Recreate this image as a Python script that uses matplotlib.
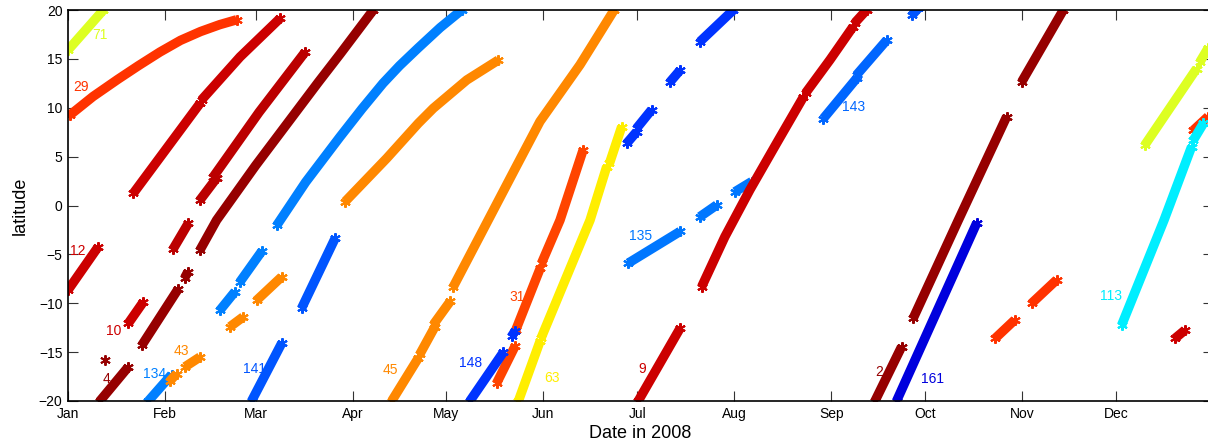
import matplotlib
matplotlib.use('Agg')
import matplotlib.pyplot as plt

plt.rcParams['font.family'] = ['Liberation Sans', 'DejaVu Sans']

# ---------------- data ----------------
month_days = [0, 31, 60, 91, 121, 152, 182, 213, 244, 274, 305, 335]
month_labels = ['Jan', 'Feb', 'Mar', 'Apr', 'May', 'Jun',
                'Jul', 'Aug', 'Sep', 'Oct', 'Nov', 'Dec']
lat_ticks = [-20, -15, -10, -5, 0, 5, 10, 15, 20]

# each track: list of segments, each segment: list of (day of 2008, latitude)
track_71 = [[(0.0, 15.9), (11.3, 20.0)]]
track_29 = [[(0.6, 9.25), (8.0, 11.15), (15.9, 12.9), (22.5, 14.3), (29.4, 15.7),
             (36.0, 16.9), (42.4, 17.8), (48.5, 18.5), (53.9, 19.0)]]
track_red_a = [[(20.9, 1.25), (42.2, 10.45)],
               [(42.7, 10.8), (55.0, 15.2), (67.8, 19.15)]]
track_red_b = [[(33.7, -4.4), (38.5, -1.8)],
               [(42.2, 0.56), (47.5, 2.8)],
               [(46.5, 2.95), (61.1, 9.55), (75.8, 15.7)]]
track_dark_c = [[(23.6, -14.3), (35.3, -8.5)],
                [(37.3, -7.4), (38.3, -6.8)],
                [(42.2, -4.55), (47.5, -1.5), (60.0, 4.1), (72.0, 9.2),
                 (80.0, 12.6), (87.0, 15.5), (97.6, 20.0)]]
track_4 = [[(10.2, -20.0), (19.3, -16.5)]]
point_4 = [(11.8, -15.8)]
track_12 = [[(0.0, -8.65), (9.7, -4.2)]]
track_10 = [[(19.3, -12.05), (24.1, -9.85)]]
track_134 = [[(25.7, -20.0), (33.1, -17.3)]]
track_43 = [[(32.6, -17.95), (34.7, -17.2)],
            [(37.4, -16.5), (42.2, -15.5)],
            [(51.8, -12.4), (56.0, -11.4)],
            [(60.3, -9.7), (68.3, -7.3)],
            [(88.6, 0.4), (101.9, 4.83), (112.0, 8.41), (116.8, 9.95),
             (127.5, 12.84), (137.6, 14.88)]]
track_light_blue = [[(48.6, -10.7), (53.4, -8.8)],
                    [(55.0, -7.8), (61.9, -4.7)],
                    [(66.8, -2.0), (76.0, 2.4), (86.9, 7.0), (94.0, 9.9),
                     (100.7, 12.5), (106.0, 14.3), (111.9, 16.1), (119.0, 18.2),
                     (125.9, 20.0)]]
track_141 = [[(58.7, -20.0), (68.3, -14.1)],
             [(74.7, -10.5), (85.4, -3.35)]]
track_45 = [[(103.5, -20.0), (112.0, -15.6)],
            [(112.5, -15.2), (117.3, -12.4)],
            [(117.0, -12.1), (122.2, -9.8)],
            [(123.2, -8.3), (134.9, -1.15), (143.0, 3.8), (150.9, 8.6),
             (163.7, 14.4), (174.6, 20.0)]]
track_148 = [[(128.5, -20.0), (139.2, -15.0)],
             [(141.8, -13.4), (143.0, -12.8)]]
track_31 = [[(137.0, -18.2), (142.9, -14.4)],
            [(143.2, -12.7), (151.0, -6.4)],
            [(151.4, -5.9), (157.3, -1.5), (164.7, 5.7)]]
track_63 = [[(144.0, -20.0), (150.9, -13.9)],
            [(151.2, -13.6), (166.9, -1.5), (172.2, 3.95)],
            [(173.1, 4.3), (177.0, 8.05)]]
track_blue_jul = [[(178.6, 6.35), (181.8, 7.55)],
                  [(181.8, 7.9), (186.6, 9.8)],
                  [(192.5, 12.65), (195.7, 13.85)],
                  [(202.0, 16.75), (212.7, 20.0)]]
track_135 = [[(179.1, -5.9), (195.7, -2.65)],
             [(202.0, -1.15), (207.4, 0.05)],
             [(213.2, 1.4), (218.6, 2.45)]]
track_9 = [[(182.3, -20.0), (195.7, -12.55)],
           [(202.6, -8.3), (210.0, -3.2), (218.0, 1.6), (226.6, 6.4), (235.1, 11.1)],
           [(235.8, 11.5), (243.6, 14.9), (251.0, 18.3)],
           [(251.6, 18.7), (255.3, 20.0)]]
track_143 = [[(241.5, 8.9), (252.1, 13.0)],
             [(252.1, 13.35), (261.7, 16.9)]]
track_blue_oct = [[(269.9, 19.5), (271.9, 20.2)]]
track_2 = [[(258.0, -20.0), (266.5, -14.45)]]
track_dark_oct = [[(270.2, -11.55), (284.5, -1.6), (300.1, 9.1)],
                  [(304.9, 12.65), (318.2, 20.0)]]
track_161 = [[(264.9, -20.0), (290.5, -1.8)]]
track_nov = [[(296.4, -13.6), (302.7, -11.7)],
             [(308.1, -10.0), (316.1, -7.6)]]
track_dec_orange = [[(359.8, 7.7), (364.5, 9.1)]]
track_113 = [[(336.9, -12.2), (350.4, -1.5), (359.2, 6.0)],
             [(359.8, 6.7), (363.0, 8.4)]]
track_dec_red = [[(353.9, -13.6), (357.1, -12.75)]]
track_dec_green = [[(344.3, 6.2), (360.8, 14.0)],
                   [(361.9, 14.7), (364.5, 16.1)]]

label_text = ['71', '29', '12', '10', '4', '134', '43', '141', '45', '148',
              '31', '63', '135', '9', '143', '2', '161', '113']
label_day = [7.7, 1.7, 0.6, 12.05, 11.1, 24.1, 33.7, 55.8, 100.6, 125.1,
             141.0, 152.2, 179.4, 182.5, 247.3, 258.0, 272.6, 329.9]
label_lat = [17.45, 12.15, -4.7, -12.8, -17.7, -17.2, -14.85, -16.7, -16.8, -16.1,
             -9.4, -17.6, -3.1, -16.75, 10.1, -17.05, -17.75, -9.3]

# ---------------- styles ----------------
C_YG = '#DDFF22'
C_RO = '#FF3300'
C_RED = '#CC0000'
C_RED2 = '#BB0000'
C_DARK = '#960000'
C_LB = '#0080FF'
C_OR = '#FF8800'
C_B1 = '#0055FF'
C_B2 = '#0033FF'
C_31 = '#FF4400'
C_Y = '#FFEE00'
C_135 = '#0077FF'
C_143 = '#0066FF'
C_161 = '#0000DD'
C_CY = '#00EEFF'

draw_list = [
    (track_71, C_YG), (track_29, C_RO), (track_red_a, C_RED), (track_red_b, C_RED2),
    (track_dark_c, C_DARK), (track_4, C_DARK), (track_12, C_RED), (track_10, C_RED),
    (track_134, C_LB), (track_43, C_OR), (track_light_blue, C_LB), (track_141, C_B1),
    (track_45, C_OR), (track_31, C_31), (track_148, C_B2), (track_63, C_Y),
    (track_blue_jul, C_B2), (track_135, C_135), (track_9, C_RED), (track_143, C_143),
    (track_blue_oct, C_B1), (track_2, C_DARK), (track_dark_oct, C_DARK),
    (track_161, C_161), (track_nov, C_RO), (track_dec_orange, C_RO),
    (track_113, C_CY), (track_dec_red, C_RED), (track_dec_green, C_YG),
]
label_colors = [C_YG, C_RO, C_RED, C_RED, C_DARK, C_LB, C_OR, C_B1, C_OR, C_B2,
                C_31, C_Y, C_135, C_RED, C_143, C_DARK, C_161, C_CY]

# ---------------- figure ----------------
fig = plt.figure(figsize=(12.08, 4.47), dpi=100)
ax = fig.add_axes([68 / 1208, 46 / 447, 1144.8 / 1208, 391 / 447])

LW = 6.8
asterisk = (6, 2, 0)
for track, col in draw_list:
    for seg in track:
        xs = [p[0] for p in seg]
        ys = [p[1] for p in seg]
        ax.plot(xs, ys, '-', color=col, lw=LW, solid_capstyle='butt',
                solid_joinstyle='round')
        ax.plot([xs[0], xs[-1]], [ys[0], ys[-1]], ls='none', marker=asterisk,
                ms=7.5, mew=1.5, color=col)

ax.plot([p[0] for p in point_4], [p[1] for p in point_4], ls='none',
        marker=asterisk, ms=7.5, mew=1.4, color=C_DARK)

for t, d, la, c in zip(label_text, label_day, label_lat, label_colors):
    ax.text(d, la, t, color=c, fontsize=10, ha='left', va='center')

ax.set_xlim(0, 366)
ax.set_ylim(-20, 20)
ax.set_xticks(month_days)
ax.set_xticklabels(month_labels)
ax.set_yticks(lat_ticks)
ax.tick_params(direction='in', length=7.2, width=0.8, top=True, right=True,
               labelsize=10, pad=4, color='#333333')
for s in ax.spines.values():
    s.set_linewidth(1.2)
ax.set_xlabel('Date in 2008', fontsize=13, labelpad=3)
ax.set_ylabel('latitude', fontsize=13, labelpad=7)

fig.savefig('out.png', dpi=100)
